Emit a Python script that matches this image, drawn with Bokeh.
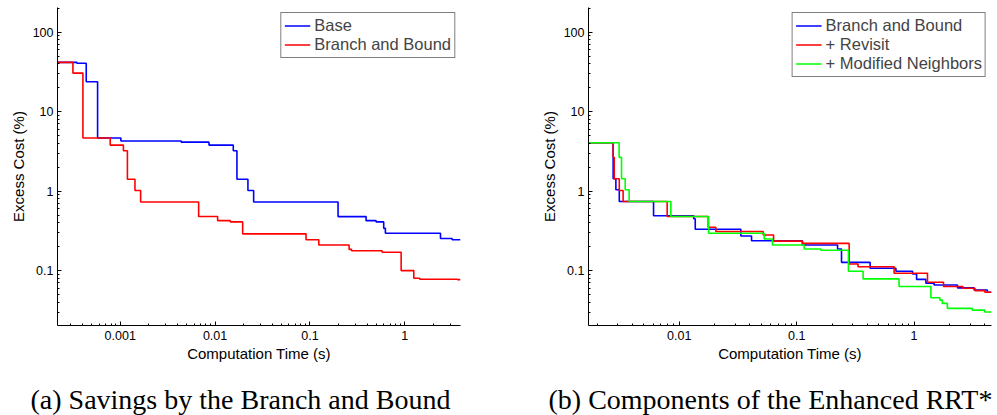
from bokeh.plotting import figure
from bokeh.layouts import row
from bokeh.models import FixedTicker, CustomJSTickFormatter, Title, Range1d
from bokeh.embed import file_html
from bokeh.resources import INLINE

# ---------------- data ----------------
# (a) Savings by the Branch and Bound
a_base_t = [2.0e-4, 3.49e-4, 4.38e-4, 5.77e-4, 1.016e-3, 4.4e-3, 8.63e-3, 0.01556, 0.0170,
            0.0222, 0.0255, 0.198, 0.391, 0.499, 0.60, 0.625, 2.38, 3.16, 3.87]
a_base_v = [41.6, 40.5, 23.8, 4.66, 4.27, 4.13, 3.79, 3.22, 1.41,
            1.02, 0.73, 0.478, 0.425, 0.41, 0.34, 0.295, 0.253, 0.245, 0.245]
a_bb_t = [2.0e-4, 3.17e-4, 4.04e-4, 7.84e-4, 1.08e-3, 1.19e-3, 1.43e-3, 1.64e-3, 6.71e-3,
          0.01064, 0.0145, 0.01954, 0.091, 0.124, 0.259, 0.275, 0.577, 0.916, 1.245, 1.44, 3.6, 3.87]
a_bb_v = [41.6, 30.5, 4.66, 3.79, 3.22, 1.41, 1.02, 0.73, 0.48,
          0.425, 0.41, 0.29, 0.245, 0.21, 0.185, 0.178, 0.17, 0.1, 0.08, 0.078, 0.077, 0.077]

# (b) Components of the Enhanced RRT*
b_bb_t = [1.6e-3, 2.74e-3, 2.89e-3, 3.09e-3, 6.05e-3, 0.0133, 0.0137, 0.0335, 0.0413, 0.112,
          0.223, 0.241, 0.422, 0.70, 0.97, 1.05, 1.26, 1.48, 2.34, 3.24, 4.2, 4.56]
b_bb_v = [4.06, 1.43, 1.04, 0.74, 0.49, 0.45, 0.331, 0.273, 0.238, 0.21,
          0.187, 0.127, 0.107, 0.098, 0.091, 0.0775, 0.0695, 0.066, 0.0607, 0.0571, 0.0535, 0.0535]
b_rev_t = [1.6e-3, 2.74e-3, 2.80e-3, 3.09e-3, 3.33e-3, 7.9e-3, 0.01766, 0.0205, 0.0519, 0.0636,
           0.112, 0.28, 0.333, 0.676, 1.30, 1.78, 2.6, 3.3, 4.0, 4.56]
b_rev_v = [4.06, 2.66, 1.43, 1.02, 0.74, 0.48, 0.351, 0.31, 0.28, 0.235,
           0.22, 0.121, 0.112, 0.0927, 0.0715, 0.063, 0.06, 0.056, 0.0535, 0.0535]
b_mod_t = [1.6e-3, 3.08e-3, 3.23e-3, 3.47e-3, 3.75e-3, 8.49e-3, 0.0178, 0.0529, 0.0622, 0.116,
           0.161, 0.276, 0.368, 0.745, 1.39, 1.66, 1.74, 1.92, 3.13, 3.99, 4.56]
b_mod_v = [4.06, 2.66, 1.43, 1.04, 0.74, 0.48, 0.295, 0.25, 0.21, 0.187,
           0.18, 0.098, 0.0787, 0.063, 0.0455, 0.0425, 0.0387, 0.0335, 0.0318, 0.0302, 0.0302]

y_ticks = [0.1, 1, 10, 100]
a_x_ticks = [0.001, 0.01, 0.1, 1]
b_x_ticks = [0.01, 0.1, 1]
captions = ["(a) Savings by the Branch and Bound", "(b) Components of the Enhanced RRT*"]

BLUE, RED, GREEN = "#0000ff", "#ff0000", "#00ff00"
SANS = "Liberation Sans"
SERIF = "Liberation Serif"


def minors(lo, hi):
    return [m * 10.0 ** e for e in range(lo, hi) for m in range(2, 10)]


def make_fig(xr, border_left, border_right, xticks, caption, cap_offset):
    p = figure(x_axis_type="log", y_axis_type="log",
               x_range=Range1d(*xr), y_range=Range1d(0.0204, 204),
               frame_width=403, frame_height=318,
               min_border_left=border_left, min_border_right=border_right,
               min_border_top=7, min_border_bottom=90,
               output_backend="svg", toolbar_location=None)
    p.grid.visible = False
    p.outline_line_color = None
    p.background_fill_color = "white"
    p.border_fill_color = "white"
    p.xaxis.ticker = FixedTicker(ticks=xticks, minor_ticks=minors(-4, 1))
    p.yaxis.ticker = FixedTicker(ticks=y_ticks, minor_ticks=minors(-2, 3))
    fmt = "return tick.toString()"
    for ax in (p.xaxis, p.yaxis):
        ax.formatter = CustomJSTickFormatter(code=fmt)
        ax.major_tick_in = 4
        ax.major_tick_out = 0
        ax.minor_tick_in = 2
        ax.minor_tick_out = 0
        ax.axis_line_color = "black"
        ax.major_tick_line_color = "black"
        ax.minor_tick_line_color = "black"
        ax.major_label_text_font = SANS
        ax.major_label_text_font_size = "12.5px"
        ax.major_label_text_color = "black"
        ax.axis_label_text_font = SANS
        ax.axis_label_text_font_size = "15px"
        ax.axis_label_text_font_style = "normal"
        ax.axis_label_text_color = "black"
    p.xaxis.axis_label = "Computation Time (s)"
    p.yaxis.axis_label = "Excess Cost (%)"
    p.xaxis.major_label_standoff = 5
    p.xaxis.axis_label_standoff = 2
    p.yaxis.major_label_standoff = 4
    p.yaxis.axis_label_standoff = 3
    # spacer between the axis label and the caption
    p.add_layout(Title(text=" ", text_font_size="13px", standoff=0), "below")
    p.add_layout(Title(text=caption, align="left", offset=cap_offset,
                       text_font=SERIF, text_font_size="28px",
                       text_font_style="normal", text_color="black",
                       standoff=0), "below")
    return p


p1 = make_fig((2.18e-4, 3.87), 57, 37, a_x_ticks, captions[0], -27)
p1.step(a_base_t, a_base_v, mode="after", color=BLUE, line_width=1.6, legend_label="Base")
p1.step(a_bb_t, a_bb_v, mode="after", color=RED, line_width=1.6, legend_label="Branch and Bound")

p2 = make_fig((1.69e-3, 4.56), 91, 6, b_x_ticks, captions[1], -40)
p2.step(b_bb_t, b_bb_v, mode="after", color=BLUE, line_width=1.6, legend_label="Branch and Bound")
p2.step(b_rev_t, b_rev_v, mode="after", color=RED, line_width=1.6, legend_label="+ Revisit")
p2.step(b_mod_t, b_mod_v, mode="after", color=GREEN, line_width=1.6, legend_label="+ Modified Neighbors")

for p in (p1, p2):
    lg = p.legend[0]
    lg.location = "top_right"
    lg.margin = 5
    lg.padding = 3
    lg.spacing = 0
    lg.glyph_width = 26
    lg.glyph_height = 17
    lg.label_height = 17
    lg.label_standoff = 4
    lg.label_text_font = SANS
    lg.label_text_font_size = "16.5px"
    lg.border_line_color = "black"
    lg.border_line_width = 1.5
    lg.background_fill_alpha = 1

layout = row(p1, p2)
open("out.html", "w").write(file_html(layout, INLINE))
